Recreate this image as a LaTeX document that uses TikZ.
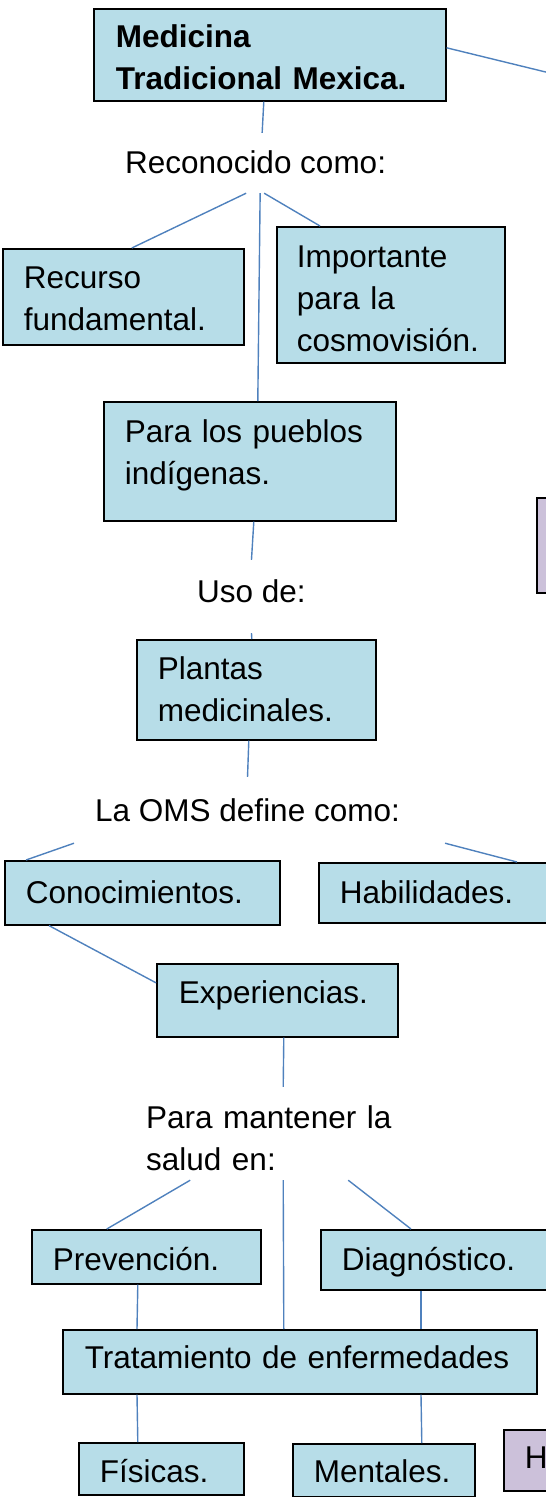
\documentclass[tikz,border=0pt]{standalone}
\usepackage{fontspec}
\setmainfont{Liberation Sans}
\definecolor{cajaazul}{HTML}{B7DDE8}
\definecolor{cajamorada}{HTML}{CCC1DA}
\definecolor{lineaazul}{HTML}{4F81BD}
\tikzset{
    %Define style for boxes
    caja/.style={
           rectangle,
           draw=black, line width=1.6pt,
           fill=cajaazul,
           anchor=north west,
           inner xsep=21pt, inner ysep=0pt,
           align=left,
           font=\fontsize{31.5}{42}\selectfont},
    morada/.style={
           caja,
           fill=cajamorada},
    %Define style for free texts
    etiqueta/.style={
           inner sep=0pt,
           anchor=base west,
           font=\fontsize{31.5}{42}\selectfont},
    % Define line style
    enlace/.style={
           draw=lineaazul,
           line width=1.4pt}
}
\begin{document}
\begin{tikzpicture}[x=1pt,y=-1pt]
\useasboundingbox (0,0) rectangle (546,1497);
\clip (0,0) rectangle (546,1497);
 %boxes
\node[caja, font={\fontsize{31.5}{42}\selectfont\bfseries}, inner xsep=22pt, text width=308pt, text height=39pt, text depth=53pt] (titulo) at (93,8) {Medicina\\Tradicional Mexica.};
\node[caja, text width=199pt, text height=40pt, text depth=56pt] (recurso) at (2,248) {Recurso\\fundamental.};
\node[caja, inner xsep=20pt, text width=188pt, text height=41pt, text depth=95pt] (importante) at (276,226) {Importante\\para la\\cosmovisión.};
\node[caja, text width=250pt, text height=41pt, text depth=78pt] (pueblos) at (103,401) {Para los pueblos\\indígenas.};
\node[caja, text width=197pt, text height=40pt, text depth=60pt] (plantas) at (136,639) {Plantas\\medicinales.};
\node[caja, text width=233pt, text height=43pt, text depth=21pt] (conoc) at (4,860) {Conocimientos.};
\node[caja, text width=185.5pt, text height=41pt, text depth=19pt] (habil) at (318,862) {Habilidades.};
\node[caja, inner xsep=22pt, text width=197pt, text height=40pt, text depth=33pt] (exper) at (156,963) {Experiencias.};
\node[caja, text width=187pt, text height=41pt, text depth=13pt] (prev) at (31,1229) {Prevención.};
\node[caja, text width=218pt, text height=41pt, text depth=19pt] (diag) at (320,1229) {Diagnóstico.};
\node[caja, inner xsep=22pt, text width=430pt, text height=39pt, text depth=25pt] (trat) at (62,1329) {Tratamiento de enfermedades};
\node[caja, text width=123pt, text height=40pt, text depth=12pt] (fisicas) at (78,1442) {Físicas.};
\node[caja, text width=140pt, text height=39pt, text depth=14pt] (mentales) at (292,1443) {Mentales.};
\node[morada, text width=58pt, text height=39pt, text depth=22pt] (moradaH) at (503,1429) {H};
\node[morada, text width=8pt, text height=0pt, text depth=95pt] (moradaR) at (536,497) {};

 %free texts
\node[etiqueta, text height=40pt, text depth=20pt] (rec) at (125,173) {Reconocido como:};
\node[etiqueta, text height=42pt, text depth=31pt] (uso) at (197,602) {Uso de:};
\node[etiqueta, text height=44pt, text depth=22pt] (oms) at (95,821) {La OMS define como:};
\node[etiqueta, align=left, text width=280pt, text height=41pt, text depth=52pt] (salud) at (146,1128) {Para mantener la\\salud en:};

 %lines
\coordinate (fuera) at (560,75.5);
\draw[enlace] ([yshift=7pt]titulo.east) -- (fuera);
\draw[enlace] ([xshift=-6pt]titulo.south) -- ([xshift=6.5pt]rec.north);
\draw[enlace] ([xshift=-9.5pt]rec.south) -- ([xshift=8.5pt]recurso.north);
\draw[enlace] ([xshift=4.5pt]rec.south) -- ([xshift=8pt]pueblos.north);
\draw[enlace] ([xshift=8.5pt]rec.south) -- ([xshift=44pt]importante.north west);
\draw[enlace] ([xshift=4pt]pueblos.south) -- (uso.north);
\draw[enlace] (uso.south) -- ([xshift=-4.5pt]plantas.north);
\draw[enlace] ([xshift=-7.5pt]plantas.south) -- (oms.north);
\draw[enlace] ([xshift=-21pt]oms.south west) -- ([xshift=22pt]conoc.north west);
\draw[enlace] ([xshift=45pt]oms.south east) -- ([xshift=199pt]habil.north west);
\draw[enlace] ([xshift=45pt]conoc.south west) -- ([yshift=17.5pt]exper.west);
\draw[enlace] ([xshift=6.5pt]exper.south) -- ([xshift=-3pt]salud.north);
\draw[enlace] ([xshift=-96pt]salud.south) -- ([xshift=-39.5pt]prev.north);
\draw[enlace] ([xshift=-3pt]salud.south) -- ([xshift=-16pt]trat.north);
\draw[enlace] ([xshift=62pt]salud.south) -- ([xshift=91pt]diag.north west);
\draw[enlace] ([xshift=-8.5pt]prev.south) -- ([xshift=75pt]trat.north west);
\draw[enlace] ([xshift=101pt]diag.south west) -- ([xshift=359pt]trat.north west);
\draw[enlace] ([xshift=75pt]trat.south west) -- ([xshift=-23.5pt]fisicas.north);
\draw[enlace] ([xshift=359pt]trat.south west) -- ([xshift=38pt]mentales.north);
\end{tikzpicture}
\end{document}
